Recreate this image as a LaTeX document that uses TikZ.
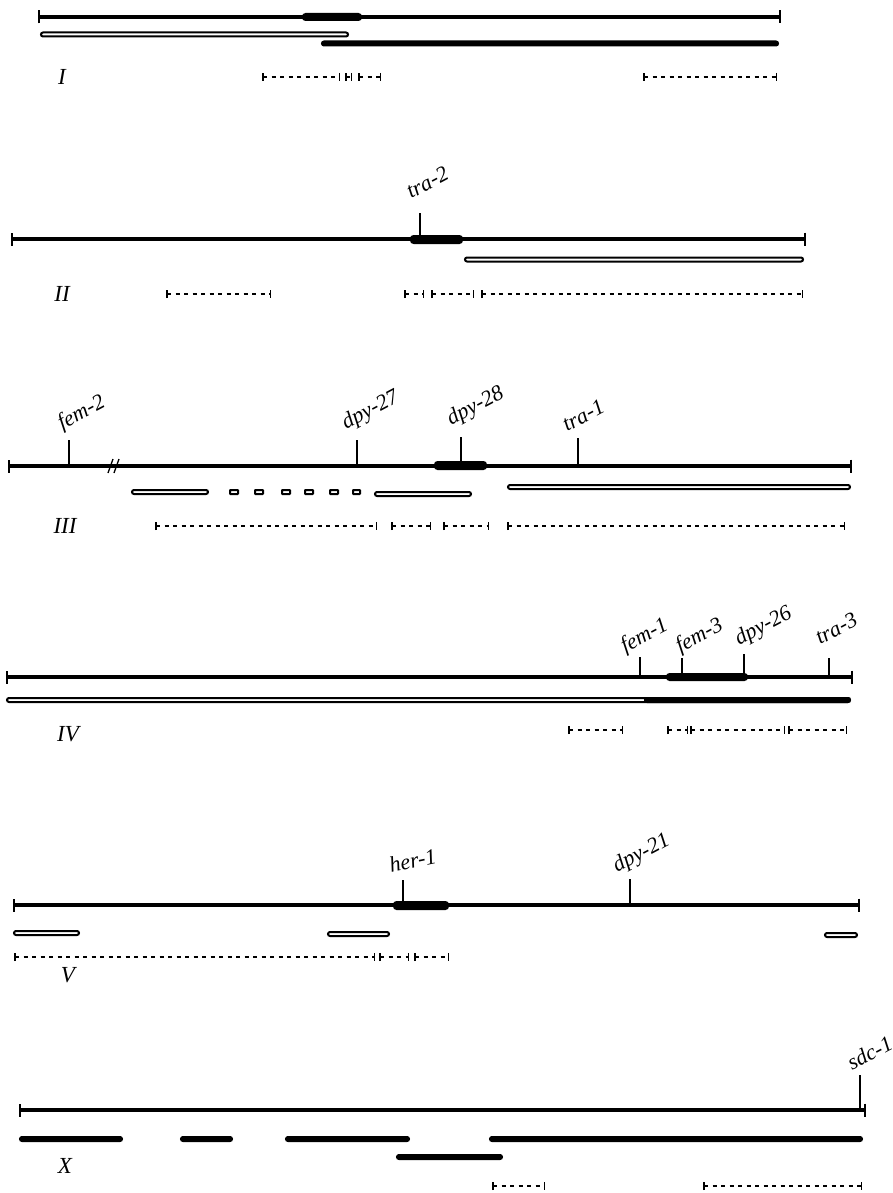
\documentclass[tikz,border=0pt]{standalone}
\usepackage{fontspec}
\newfontfamily\labfont{Liberation Serif}
\usetikzlibrary{arrows.meta}
\begin{document}
\begin{tikzpicture}[x=1pt,y=-1pt,
  chrom/.style={line width=3.2pt,{Bar[width=13pt,line width=1.8pt]}-{Bar[width=13pt,line width=1.8pt]}},
  seg/.style={fill=black,rounded corners=3.5pt},
  cbar/.style={draw=black,fill=white,line width=2pt,rounded corners=2pt},
  dbar/.style={cbar,fill=black},
  gtick/.style={line width=1.3pt},
  intv/.style={line width=1.2pt,dash pattern=on 4pt off 4.5pt,{Bar[width=8pt,line width=1.5pt]}-{Bar[width=8pt,line width=1.5pt]}},
  genelab/.style={font=\labfont\fontsize{22}{24}\selectfont\itshape,anchor=base west,inner sep=0pt,rotate=28},
  chrlab/.style={font=\labfont\fontsize{23}{25}\selectfont\itshape,inner sep=0pt}
]
\useasboundingbox[fill=white] (0,0) rectangle (893,1193);

% ---------------- Chromosome I ----------------
\coordinate (IL) at (38,17); \coordinate (IR) at (781,17);
\draw[chrom] (IL) -- (IR);
\fill[seg] (302,13) rectangle (362,21);
\draw[cbar] (41,32.5) rectangle (348,36.5);
\draw[dbar] (322,41.5) rectangle (778,45.5);
\node[chrlab] (cI) at (62,77) {I};
\draw[intv] (262,77) -- (340,77);
\draw[intv] (345,77) -- (352,77);
\draw[intv] (358,77) -- (381,77);
\draw[intv] (643,77) -- (777,77);

% ---------------- Chromosome II ----------------
\coordinate (IIL) at (11,239); \coordinate (IIR) at (806,239);
\draw[chrom] (IIL) -- (IIR);
\fill[seg] (410,235) rectangle (463,244);
\coordinate (t-tra2) at (420,213);
\draw[gtick] (t-tra2) -- (420,239);
\node[genelab] (l-tra2) at (411,199) {tra-2};
\draw[cbar] (465,257.5) rectangle (803,261.5);
\node[chrlab] (cII) at (62,294) {II};
\draw[intv] (166,294) -- (271,294);
\draw[intv] (404,294) -- (424,294);
\draw[intv] (431,294) -- (474,294);
\draw[intv] (481,294) -- (803,294);

% ---------------- Chromosome III ----------------
\coordinate (IIIL) at (8,466); \coordinate (IIIR) at (852,466);
\draw[chrom] (IIIL) -- (IIIR);
\draw[line width=1.3pt] (108,473) -- (113,459) (114,473) -- (119,459);
\fill[seg] (434,461) rectangle (487,470);
\draw[gtick] (69,440) -- (69,466);
\draw[gtick] (357,440) -- (357,466);
\draw[gtick] (461,437) -- (461,466);
\draw[gtick] (578,438) -- (578,466);
\node[genelab] (l-fem2) at (62,430) {fem-2};
\node[genelab] (l-dpy27) at (346,430) {dpy-27};
\node[genelab] (l-dpy28) at (451,426) {dpy-28};
\node[genelab] (l-tra1) at (567,432) {tra-1};
\draw[cbar] (132,490) rectangle (208,494);
\foreach \a/\b in {230/238,255/263,282/290,305/313,330/338,353/360}
  \draw[cbar,rounded corners=0.5pt] (\a,490) rectangle (\b,494);
\draw[cbar] (375,492) rectangle (471,496);
\draw[cbar] (508,485) rectangle (850,489);
\node[chrlab] (cIII) at (65,526) {III};
\draw[intv] (155,526) -- (377,526);
\draw[intv] (391,526) -- (431,526);
\draw[intv] (443,526) -- (489,526);
\draw[intv] (507,526) -- (845,526);

% ---------------- Chromosome IV ----------------
\coordinate (IVL) at (6,677); \coordinate (IVR) at (853,677);
\draw[chrom] (IVL) -- (IVR);
\fill[seg] (666,673) rectangle (748,681);
\draw[gtick] (640,657) -- (640,677);
\draw[gtick] (682,658) -- (682,677);
\draw[gtick] (744,654) -- (744,677);
\draw[gtick] (829,658) -- (829,677);
\node[genelab] (l-fem1) at (625,653) {fem-1};
\node[genelab] (l-fem3) at (680,653) {fem-3};
\node[genelab] (l-dpy26) at (739,646) {dpy-26};
\node[genelab] (l-tra3) at (820,645) {tra-3};
\draw[cbar] (7,698) rectangle (850,702);
\draw[dbar] (645,698) rectangle (850,702);
\node[chrlab] (cIV) at (68,734) {IV};
\draw[intv] (568,730) -- (623,730);
\draw[intv] (667,730) -- (688,730);
\draw[intv] (690,730) -- (785,730);
\draw[intv] (788,730) -- (847,730);

% ---------------- Chromosome V ----------------
\coordinate (VL) at (13,905); \coordinate (VR) at (860,905);
\draw[chrom] (VL) -- (VR);
\fill[seg] (393,901) rectangle (449,910);
\draw[gtick] (403,880) -- (403,905);
\draw[gtick] (630,879) -- (630,905);
\node[genelab,rotate=-16] (l-her1) at (391,873) {her-1};
\node[genelab] (l-dpy21) at (617,873) {dpy-21};
\draw[cbar] (14,931) rectangle (79,935);
\draw[cbar] (328,932) rectangle (389,936);
\draw[cbar] (825,933) rectangle (857,937);
\draw[intv] (14,957) -- (375,957);
\draw[intv] (379,957) -- (409,957);
\draw[intv] (414,957) -- (449,957);
\node[chrlab] (cV) at (68,975) {V};

% ---------------- Chromosome X ----------------
\coordinate (XL) at (19,1110); \coordinate (XR) at (866,1110);
\draw[chrom] (XL) -- (XR);
\draw[gtick] (860,1075) -- (860,1110);
\node[genelab] (l-sdc1) at (852,1071) {sdc-1};
\draw[dbar] (20,1137) rectangle (122,1141);
\draw[dbar] (181,1137) rectangle (232,1141);
\draw[dbar] (286,1137) rectangle (409,1141);
\draw[dbar] (490,1137) rectangle (862,1141);
\draw[dbar] (397,1155) rectangle (502,1159);
\node[chrlab] (cX) at (65,1166) {X};
\draw[intv] (492,1186) -- (545,1186);
\draw[intv] (703,1186) -- (862,1186);
\end{tikzpicture}
\end{document}
